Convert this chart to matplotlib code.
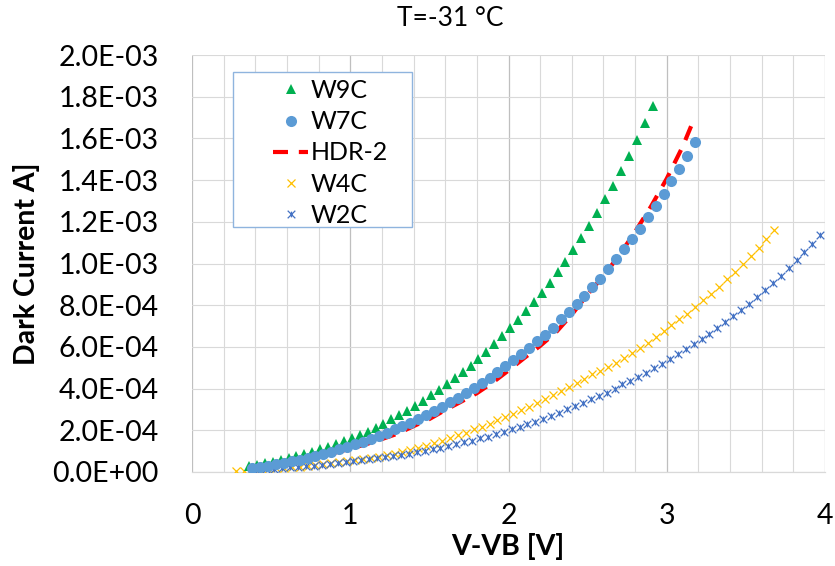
import matplotlib
matplotlib.use("Agg")
import matplotlib.pyplot as plt
import numpy as np
from matplotlib.patches import Rectangle
from matplotlib.path import Path
from matplotlib.ticker import FuncFormatter, MultipleLocator

# dark current in mA
W9C_X = [0.36, 0.41, 0.46, 0.51, 0.56, 0.61, 0.66, 0.71, 0.76, 0.81,
         0.86, 0.91, 0.96, 1.01, 1.06, 1.11, 1.16, 1.21, 1.26, 1.31,
         1.36, 1.41, 1.46, 1.51, 1.56, 1.61, 1.66, 1.71, 1.76, 1.81,
         1.86, 1.91, 1.96, 2.01, 2.06, 2.11, 2.16, 2.21, 2.26, 2.31,
         2.36, 2.41, 2.46, 2.51, 2.56, 2.61, 2.66, 2.71, 2.76, 2.81,
         2.86, 2.91]
W9C_MA = [0.028, 0.035, 0.042, 0.050, 0.057, 0.066, 0.076, 0.087, 0.098, 0.110,
          0.122, 0.134, 0.148, 0.162, 0.178, 0.194, 0.212, 0.231, 0.252, 0.273,
          0.294, 0.318, 0.342, 0.368, 0.393, 0.420, 0.449, 0.479, 0.510, 0.544,
          0.577, 0.612, 0.650, 0.689, 0.730, 0.772, 0.817, 0.860, 0.908, 0.958,
          1.009, 1.063, 1.122, 1.181, 1.243, 1.307, 1.371, 1.443, 1.515, 1.592,
          1.672, 1.757]

W7C_X = [0.38, 0.43, 0.48, 0.53, 0.58, 0.63, 0.68, 0.73, 0.78, 0.83,
         0.88, 0.93, 0.98, 1.03, 1.08, 1.13, 1.18, 1.23, 1.28, 1.33,
         1.38, 1.43, 1.48, 1.53, 1.58, 1.63, 1.68, 1.73, 1.78, 1.83,
         1.88, 1.93, 1.98, 2.03, 2.08, 2.13, 2.18, 2.23, 2.28, 2.33,
         2.38, 2.43, 2.48, 2.53, 2.58, 2.63, 2.68, 2.73, 2.78, 2.83,
         2.88, 2.93, 2.98, 3.03, 3.08, 3.13, 3.18]
W7C_MA = [0.019, 0.024, 0.030, 0.036, 0.043, 0.051, 0.059, 0.067, 0.077, 0.087,
          0.098, 0.109, 0.121, 0.133, 0.146, 0.160, 0.174, 0.188, 0.204, 0.220,
          0.237, 0.254, 0.274, 0.294, 0.313, 0.334, 0.355, 0.377, 0.402, 0.428,
          0.453, 0.480, 0.506, 0.537, 0.565, 0.594, 0.627, 0.657, 0.693, 0.732,
          0.766, 0.806, 0.845, 0.887, 0.926, 0.973, 1.020, 1.068, 1.116, 1.166,
          1.221, 1.275, 1.333, 1.394, 1.454, 1.517, 1.584]

HDR_X = [0.40, 0.50, 0.60, 0.70, 0.80, 0.90, 1.00, 1.10, 1.20, 1.30,
         1.40, 1.50, 1.60, 1.70, 1.80, 1.90, 2.00, 2.10, 2.20, 2.30,
         2.40, 2.50, 2.60, 2.70, 2.80, 2.90, 3.00, 3.10, 3.17]
HDR_MA = [0.021, 0.031, 0.043, 0.057, 0.073, 0.092, 0.112, 0.133, 0.158, 0.184,
          0.220, 0.254, 0.297, 0.337, 0.378, 0.429, 0.487, 0.547, 0.605, 0.670,
          0.755, 0.852, 0.940, 1.040, 1.152, 1.273, 1.407, 1.560, 1.688]

W4C_X = [0.28, 0.33, 0.38, 0.43, 0.48, 0.53, 0.58, 0.63, 0.68, 0.73,
         0.78, 0.83, 0.88, 0.93, 0.98, 1.03, 1.08, 1.13, 1.18, 1.23,
         1.28, 1.33, 1.38, 1.43, 1.48, 1.53, 1.58, 1.63, 1.68, 1.73,
         1.78, 1.83, 1.88, 1.93, 1.98, 2.03, 2.08, 2.13, 2.18, 2.23,
         2.28, 2.33, 2.38, 2.43, 2.48, 2.53, 2.58, 2.63, 2.68, 2.73,
         2.78, 2.83, 2.88, 2.93, 2.98, 3.03, 3.08, 3.13, 3.18, 3.23,
         3.28, 3.33, 3.38, 3.43, 3.48, 3.53, 3.58, 3.63, 3.68]
W4C_MA = [0.005, 0.007, 0.009, 0.011, 0.014, 0.017, 0.020, 0.023, 0.026, 0.030,
          0.034, 0.038, 0.042, 0.047, 0.052, 0.057, 0.062, 0.068, 0.074, 0.081,
          0.088, 0.096, 0.105, 0.115, 0.126, 0.139, 0.151, 0.163, 0.176, 0.189,
          0.204, 0.218, 0.232, 0.248, 0.264, 0.280, 0.298, 0.314, 0.331, 0.350,
          0.370, 0.387, 0.408, 0.429, 0.448, 0.469, 0.485, 0.504, 0.525, 0.549,
          0.573, 0.597, 0.621, 0.648, 0.675, 0.703, 0.732, 0.760, 0.792, 0.823,
          0.854, 0.888, 0.925, 0.960, 0.997, 1.035, 1.075, 1.117, 1.160]

W2C_X = [0.37, 0.42, 0.47, 0.52, 0.57, 0.62, 0.67, 0.72, 0.77, 0.82,
         0.87, 0.92, 0.97, 1.02, 1.07, 1.12, 1.17, 1.22, 1.27, 1.32,
         1.37, 1.42, 1.47, 1.52, 1.57, 1.62, 1.67, 1.72, 1.77, 1.82,
         1.87, 1.92, 1.97, 2.02, 2.07, 2.12, 2.17, 2.22, 2.27, 2.32,
         2.37, 2.42, 2.47, 2.52, 2.57, 2.62, 2.67, 2.72, 2.77, 2.82,
         2.87, 2.92, 2.97, 3.02, 3.07, 3.12, 3.17, 3.22, 3.27, 3.32,
         3.37, 3.42, 3.47, 3.52, 3.57, 3.62, 3.67, 3.72, 3.77, 3.82,
         3.87, 3.92, 3.97]
W2C_MA = [0.008, 0.010, 0.013, 0.016, 0.019, 0.022, 0.025, 0.028, 0.031, 0.035,
          0.039, 0.043, 0.047, 0.052, 0.057, 0.061, 0.066, 0.071, 0.076, 0.082,
          0.088, 0.095, 0.103, 0.110, 0.117, 0.124, 0.132, 0.142, 0.151, 0.161,
          0.170, 0.181, 0.192, 0.204, 0.216, 0.229, 0.242, 0.254, 0.269, 0.283,
          0.300, 0.317, 0.333, 0.349, 0.366, 0.381, 0.398, 0.420, 0.437, 0.456,
          0.477, 0.498, 0.520, 0.541, 0.565, 0.588, 0.612, 0.638, 0.664, 0.691,
          0.719, 0.747, 0.776, 0.806, 0.840, 0.872, 0.907, 0.941, 0.978, 1.016,
          1.055, 1.094, 1.136]

plt.rcParams["font.family"] = ["Lato", "DejaVu Sans"]

W, H = 835, 566
fig = plt.figure(figsize=(W / 100, H / 100), dpi=100)
# plot area in pixels: left 192, right 825, top 55, bottom 472
ax = fig.add_axes([192 / W, (H - 472) / H, (825 - 192) / W, (472 - 55) / H])

# Excel style "star" marker: an x with a short vertical bar
star = Path(
    [(-1, -1), (1, 1), (-1, 1), (1, -1), (0, -0.75), (0, 0.75)],
    [Path.MOVETO, Path.LINETO, Path.MOVETO, Path.LINETO, Path.MOVETO, Path.LINETO],
)

h9, = ax.plot(W9C_X, np.array(W9C_MA) * 1e-3, linestyle="none", marker="^",
              markersize=7, color="#00B050", markeredgewidth=0, zorder=4, label="W9C")
h7, = ax.plot(W7C_X, np.array(W7C_MA) * 1e-3, linestyle="none", marker="o",
              markersize=8, color="#5B9BD5", markeredgewidth=0, zorder=5, label="W7C")
hh, = ax.plot(HDR_X, np.array(HDR_MA) * 1e-3, color="#FF0000", linewidth=3,
              dashes=(3.6, 2.6), zorder=3, label="HDR-2")
h4, = ax.plot(W4C_X, np.array(W4C_MA) * 1e-3, linestyle="none", marker="x",
              markersize=5.5, markeredgewidth=0.9, color="#FFC000", zorder=2, label="W4C")
h2, = ax.plot(W2C_X, np.array(W2C_MA) * 1e-3, linestyle="none", marker=star,
              markersize=5.5, markeredgewidth=0.9, color="#4472C4", zorder=2, label="W2C")

ax.set_xlim(0, 4)
ax.set_ylim(0, 2e-3)
ax.xaxis.set_major_locator(MultipleLocator(1))
ax.xaxis.set_minor_locator(MultipleLocator(0.2))
ax.yaxis.set_major_locator(MultipleLocator(2e-4))
ax.yaxis.set_major_formatter(FuncFormatter(lambda v, _: f"{v:.1E}"))
ax.xaxis.set_major_formatter(FuncFormatter(lambda v, _: f"{v:.0f}"))

ax.grid(True, which="minor", axis="x", color="#d9d9d9", linewidth=0.8)
ax.grid(True, which="major", axis="x", color="#bfbfbf", linewidth=0.9)
ax.grid(True, which="major", axis="y", color="#d9d9d9", linewidth=0.8)
ax.set_axisbelow(True)
for s in ax.spines.values():
    s.set_visible(False)
ax.plot([0, 4], [0, 0], color="#d9d9d9", linewidth=0.9, zorder=1, clip_on=False)

ax.tick_params(which="both", length=0)
ax.tick_params(axis="y", labelsize=20.5, pad=24)
ax.tick_params(axis="x", labelsize=20.5, pad=22)

fig.text(450 / W, 1 - 18 / H, "T=-31 °C", fontsize=19, ha="center", va="center")
fig.text(508 / W, 1 - 547 / H, "V-VB [V]", fontsize=20.5, fontweight="bold",
         ha="center", va="center")
fig.text(27 / W, 1 - 264 / H, "Dark Current A]", fontsize=20.5, fontweight="bold",
         ha="center", va="center", rotation=90)

# legend frame drawn separately so it can sit exactly where Excel put it
fig.patches.append(Rectangle((233 / W, 1 - 227 / H), 179 / W, 155 / H,
                             transform=fig.transFigure, facecolor="white",
                             edgecolor="#8FB4DE", linewidth=1.0, zorder=1))
fig.legend(handles=[h9, h7, hh, h4, h2], loc="upper left",
           bbox_to_anchor=(273 / W, 1 - 79 / H), bbox_transform=fig.transFigure,
           frameon=False, fontsize=18, borderpad=0, borderaxespad=0,
           handlelength=1.4, handletextpad=0.1, labelspacing=0.33, numpoints=1)

fig.savefig("out.png", dpi=100)
